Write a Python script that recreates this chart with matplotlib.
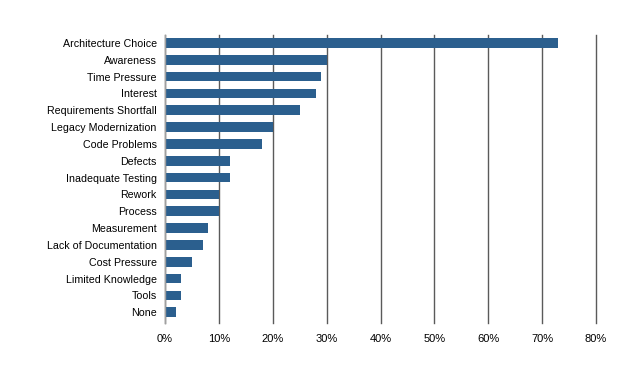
import matplotlib
matplotlib.use("Agg")
import matplotlib.pyplot as plt
from matplotlib.ticker import FuncFormatter

categories = ["Architecture Choice", "Awareness", "Time Pressure", "Interest",
              "Requirements Shortfall", "Legacy Modernization", "Code Problems",
              "Defects", "Inadequate Testing", "Rework", "Process", "Measurement",
              "Lack of Documentation", "Cost Pressure", "Limited Knowledge",
              "Tools", "None"]
values = [73, 30, 29, 28, 25, 20, 18, 12, 12, 10, 10, 8, 7, 5, 3, 3, 2]
xticks = [0, 10, 20, 30, 40, 50, 60, 70, 80]

plt.rcParams['font.family'] = ['Liberation Sans', 'DejaVu Sans']

fig = plt.figure(figsize=(6.30, 3.81), dpi=100)
ax = fig.add_axes([165/630, 1 - 323.3/381, (596-165)/630, (323.3-35)/381])

y = list(range(len(categories)))
ax.barh(y, values, height=0.57, color="#2B5F8E", zorder=3)
ax.set_yticks(y)
ax.set_yticklabels(categories, fontsize=7.7)
ax.set_ylim(len(categories) - 1 + 0.66, -0.475)
ax.set_xlim(0, 80)
ax.set_xticks(xticks)
ax.xaxis.set_major_formatter(FuncFormatter(lambda v, p: f"{int(v)}%"))
ax.tick_params(axis='x', labelsize=8, length=0, pad=8)
ax.tick_params(axis='y', length=0, pad=6)
ax.grid(axis='x', color="#5a5a5a", linewidth=1.0, zorder=0)
for gl in ax.get_xgridlines():
    gl.set_clip_on(False)
for s in ['top', 'right', 'bottom']:
    ax.spines[s].set_visible(False)
ax.spines['left'].set_color("#a0a0a0")
ax.spines['left'].set_linewidth(1.0)
ax.spines['left'].set_zorder(4)

fig.savefig("out.png", dpi=100)
